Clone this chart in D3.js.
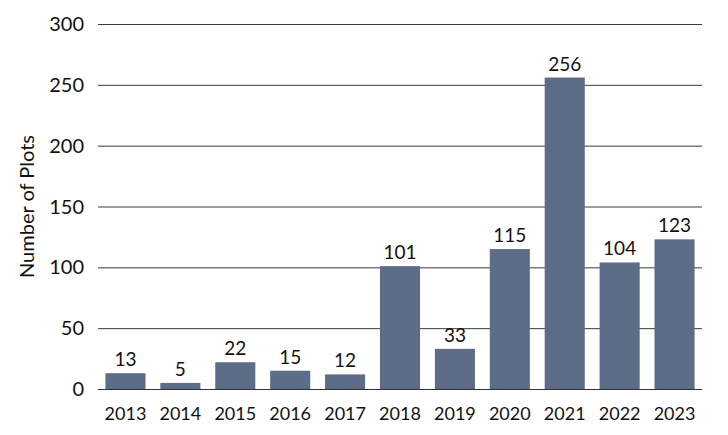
<!DOCTYPE html>
<html>
<head>
<meta charset="utf-8">
<script src="https://cdn.jsdelivr.net/npm/d3@7"></script>
<style>
  body { margin: 0; background: #fff; }
  text { font-family: Lato, "Open Sans", sans-serif; fill: #111; }
</style>
</head>
<body>
<div class="chart"></div>
<script>
const years = ["2013", "2014", "2015", "2016", "2017", "2018", "2019", "2020", "2021", "2022", "2023"];
const plots = [13, 5, 22, 15, 12, 101, 33, 115, 256, 104, 123];
const yTicks = [0, 50, 100, 150, 200, 250, 300];

function drawChart() {
  const width = 728;
  const height = 435;
  const margins = {top: 24, bottom: 46, left: 98, right: 26};

  const svg = d3.select(".chart").append("svg")
    .attr("width", width)
    .attr("height", height);

  const xScale = d3.scaleBand()
    .domain(years)
    .range([margins.left, width - margins.right])
    .paddingInner(0.27)
    .paddingOuter(0.135);

  const yScale = d3.scaleLinear()
    .domain([0, 300])
    .range([height - margins.bottom, margins.top]);

  // gridlines
  svg.append("g")
    .selectAll("line")
    .data(yTicks)
    .enter()
    .append("line")
      .attr("x1", margins.left)
      .attr("x2", width - margins.right)
      .attr("y1", d => yScale(d) + 0.5)
      .attr("y2", d => yScale(d) + 0.5)
      .attr("stroke", "#3a3a3a")
      .attr("stroke-width", 1);

  // y tick labels
  svg.append("g")
    .selectAll("text")
    .data(yTicks)
    .enter()
    .append("text")
      .attr("x", 84)
      .attr("y", d => yScale(d))
      .attr("dy", "0.35em")
      .attr("text-anchor", "end")
      .style("font-size", "20px")
      .text(d => d);

  // bars
  svg.append("g")
    .selectAll("rect")
    .data(plots)
    .enter()
    .append("rect")
      .attr("x", (d, i) => xScale(years[i]))
      .attr("y", d => yScale(d))
      .attr("width", xScale.bandwidth())
      .attr("height", d => yScale(0) - yScale(d))
      .attr("fill", "#5d6d87");

  // value labels
  svg.append("g")
    .selectAll("text")
    .data(plots)
    .enter()
    .append("text")
      .attr("x", (d, i) => xScale(years[i]) + xScale.bandwidth() / 2)
      .attr("y", d => yScale(d) - 7)
      .attr("text-anchor", "middle")
      .style("font-size", "19px")
      .text(d => d);

  // baseline
  svg.append("line")
    .attr("x1", margins.left)
    .attr("x2", width - margins.right)
    .attr("y1", yScale(0) + 0.5)
    .attr("y2", yScale(0) + 0.5)
    .attr("stroke", "#333")
    .attr("stroke-width", 1.2);

  // x labels
  svg.append("g")
    .selectAll("text")
    .data(years)
    .enter()
    .append("text")
      .attr("x", d => xScale(d) + xScale.bandwidth() / 2)
      .attr("y", 420)
      .attr("text-anchor", "middle")
      .style("font-size", "18px")
      .text(d => d);

  // y axis title
  svg.append("text")
    .attr("transform", `translate(34, ${yScale(150)}) rotate(-90)`)
    .attr("text-anchor", "middle")
    .style("font-size", "20px")
    .text("Number of Plots");
}

drawChart();
</script>
</body>
</html>
